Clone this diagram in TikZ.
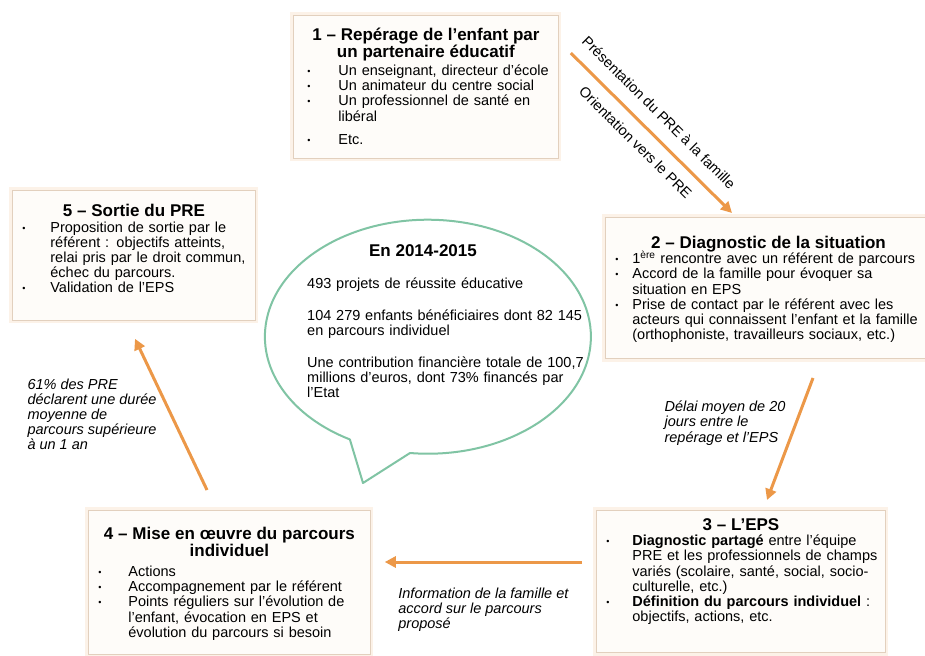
\documentclass[tikz,border=0pt]{standalone}
\usepackage{fontspec}
\setmainfont{Liberation Sans}
\usepackage{xcolor}
\usepackage{tikz}
\usetikzlibrary{positioning, arrows.meta}

\definecolor{boxline}{RGB}{226,208,190}
\definecolor{boxglow}{RGB}{252,242,232}
\definecolor{boxfill}{RGB}{254,252,249}
\definecolor{arrowc}{RGB}{236,152,72}
\definecolor{bubline}{RGB}{128,196,164}

\newcommand{\bodyfont}{\fontsize{14.5}{15.2}\selectfont\lineskiplimit=-20pt\relax}
\newcommand{\titlefont}{\fontsize{17}{16.5}\selectfont\bfseries\lineskiplimit=-20pt\relax}
\newlength{\itmind}
\newlength{\itmpre}
\newcommand{\brk}{\hfil\break}
\newcommand{\itm}[1]{\par\hangindent=\itmind\hangafter=1\noindent\hbox to\itmind{\hskip\itmpre\raisebox{1pt}{\fontsize{9}{9}\selectfont\textbullet}\hfil}#1}
\newcommand{\ttl}[1]{{\centering\titlefont\rule{0pt}{16pt}#1\par}}
\newcommand{\boxpad}[1]{\rule[-#1]{0pt}{#1}\par}

\begin{document}
\begin{tikzpicture}[
    x=1pt, y=-1pt,
    box/.style={
        draw=boxline,
        fill=boxfill,
        line width=0.8pt,
        preaction={draw=boxglow, line width=6pt},
        anchor=north west,
        align=left,
        inner xsep=10pt,
        font=\bodyfont
    },
    bullets/.style 2 args={execute at begin node={\setlength{\itmpre}{#1}\setlength{\itmind}{#2}\rightskip=0pt plus 1fil minus 30pt\relax}},
    arrow/.style={-{Triangle[length=11pt,width=11pt]}, line width=3pt, draw=arrowc},
    lbl/.style={font=\bodyfont, inner sep=0pt, align=left},
    note/.style={lbl, font=\bodyfont\itshape}
]

\fill[white] (0,0) rectangle (925,655);
\useasboundingbox (0,0) rectangle (925,655);

\node (rep) [box, bullets={4pt}{35pt}, text width=245pt, inner ysep=9.5pt] at (293,15) {%
\ttl{1 – Repérage de l'enfant par\\ un partenaire éducatif}\vspace{3pt}
\itm{Un enseignant, directeur d'école}
\itm{Un animateur du centre social}
\itm{Un professionnel de santé en\brk libéral}
\par\vspace{8pt}\itm{Etc.\boxpad{4.5pt}}};

\node (diag) [box, bullets={0pt}{17pt}, text width=306pt, inner ysep=15pt] at (605,217) {%
\ttl{2 – Diagnostic de la situation}
\itm{1\textsuperscript{ère} rencontre avec un référent de parcours}
\itm{Accord de la famille pour évoquer sa\brk situation en EPS}
\itm{Prise de contact par le référent avec les\brk acteurs qui connaissent l'enfant et la famille\brk (orthophoniste, travailleurs sociaux, etc.)\boxpad{4pt}}};

\node (eps) [box, bullets={0pt}{26pt}, text width=269pt, inner ysep=4pt] at (596,510) {%
\ttl{3 – L'EPS}
\itm{\textbf{Diagnostic partagé} entre l'équipe\brk PRE et les professionnels de champs\brk variés (scolaire, santé, social, socio-\brk culturelle, etc.)}
\itm{\textbf{Définition du parcours individuel} :\brk objectifs, actions, etc.\boxpad{27pt}}};

\node (mise) [box, bullets={0pt}{30pt}, text width=262pt, inner ysep=13.5pt] at (88,510) {%
\ttl{4 – Mise en œuvre du parcours\\ individuel}\vspace{4.8pt}
\itm{Actions}
\itm{Accompagnement par le référent}
\itm{Points réguliers sur l'évolution de\brk l'enfant, évocation en EPS et\brk évolution du parcours si besoin\boxpad{4pt}}};

\node (sortie) [box, bullets={0pt}{28pt}, text width=223pt, inner ysep=10.5pt] at (12,190) {%
\ttl{5 – Sortie du PRE}
\itm{Proposition de sortie par le\brk référent : objectifs atteints,\brk relai pris par le droit commun,\brk échec du parcours.}
\itm{Validation de l'EPS\boxpad{17pt}}};

\draw[bubline, line width=2pt, fill=white, line join=round]
    (410,453) arc[start angle=96.3, end angle=-241.4, x radius=163, y radius=117]
    -- (363,483) -- cycle;
\node (bubtitle) [anchor=base, inner sep=0pt, font=\titlefont] at (423,256) {En 2014-2015};
\node (bubtext) [lbl, anchor=north west, text width=285pt, bullets={0pt}{0pt}] at (307,275) {%
\rule{0pt}{13pt}493 projets de réussite éducative\par\vspace{16.8pt}
104 279 enfants bénéficiaires dont 82 145\brk en parcours individuel\par\vspace{16.8pt}
Une contribution financière totale de 100,7\brk millions d'euros, dont 73\% financés par\brk l'Etat\par};

\draw[arrow] ([xshift=12pt,yshift=-38pt]rep.north east) --
    node[lbl, sloped, pos=0.46, above=13pt] {Présentation du PRE à la famille}
    node[lbl, sloped, pos=0.48, below=11pt] {Orientation vers le PRE}
    ([xshift=127pt,yshift=4pt]diag.north west);
\draw[arrow] ([xshift=208pt,yshift=-19pt]diag.south west) --
    node[note, pos=0.37, left=9pt] {Délai moyen de 20\\jours entre le\\repérage et l'EPS}
    ([xshift=171pt,yshift=10pt]eps.north west);
\draw[arrow] ([xshift=-14pt,yshift=-52pt]eps.north west) --
    node[note, midway, below=24pt] {Information de la famille et\\accord sur le parcours\\proposé}
    ([xshift=14pt,yshift=-52pt]mise.north east);
\draw[arrow] ([xshift=119pt,yshift=20pt]mise.north west) --
    node[note, midway, left=13pt] {61\% des PRE\\déclarent une durée\\moyenne de\\parcours supérieure\\à un 1 an}
    ([xshift=123pt,yshift=-18pt]sortie.south west);

\end{tikzpicture}
\end{document}
